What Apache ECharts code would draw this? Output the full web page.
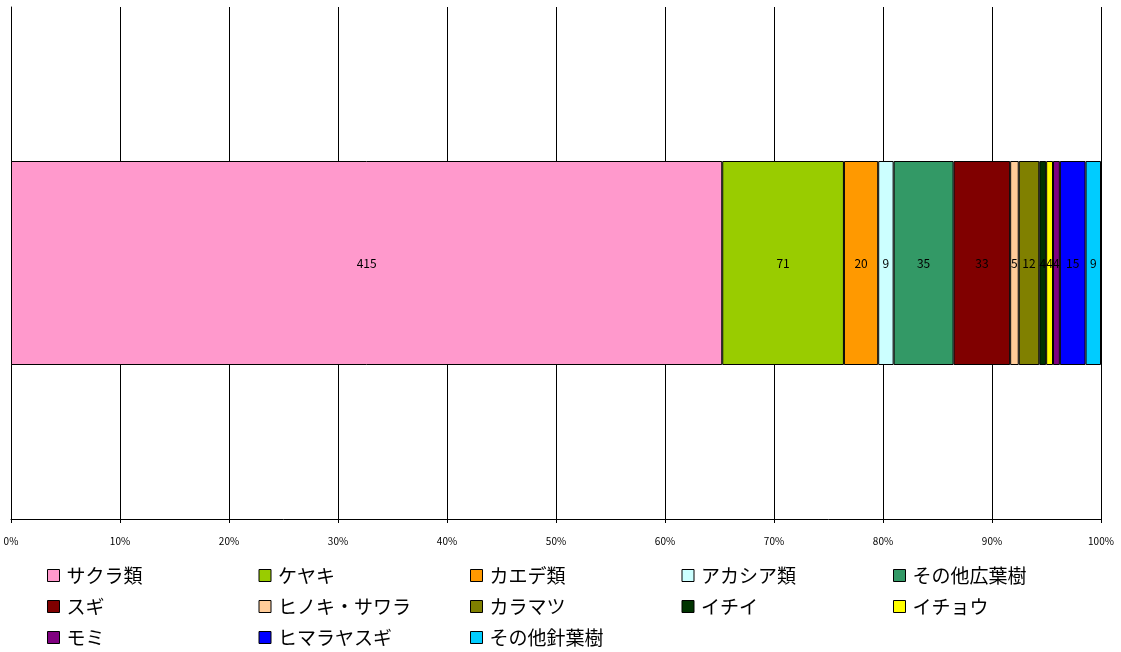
<!DOCTYPE html>
<html><head><meta charset="utf-8">
<script src="https://cdn.jsdelivr.net/npm/echarts@6/dist/echarts.min.js"></script>
<style>html,body{margin:0;padding:0;background:#fff}#c{width:1121px;height:652px}</style>
</head><body><div id="c"></div>
<script>
const names = ['サクラ類','ケヤキ','カエデ類','アカシア類','その他広葉樹','スギ','ヒノキ・サワラ','カラマツ','イチイ','イチョウ','モミ','ヒマラヤスギ','その他針葉樹'];
const counts = [415,71,20,9,35,33,5,12,4,4,4,15,9];
const colors = ['#FF99CC','#99CC00','#FF9900','#CCFFFF','#339966','#800000','#FFCC99','#808000','#003300','#FFFF00','#800080','#0000FF','#00CCFF'];
const tickLabels = ['0%','10%','20%','30%','40%','50%','60%','70%','80%','90%','100%'];

const total = counts.reduce((a,b)=>a+b,0);
const font = '"Noto Sans CJK JP", sans-serif';
const series = names.map((n,i)=>({
  name:n, type:'bar', stack:'all', barWidth:204,
  data:[{value: counts[i]/total*100, raw: counts[i]}],
  itemStyle:{color:colors[i], borderColor:'#000', borderWidth:1},
  label:{show:true, position:'inside', color:'#000', fontSize:12, fontFamily:font,
    formatter:()=>String(counts[i])},
  emphasis:{disabled:true}
}));
const chart = echarts.init(document.getElementById('c'));
chart.setOption({
  animation:false,
  color:colors,
  grid:{left:11, right:20, top:7, bottom:133},
  xAxis:{type:'value', min:0, max:100, interval:10,
    axisLine:{show:true, lineStyle:{color:'#000'}},
    axisTick:{show:true, length:4, lineStyle:{color:'#000'}},
    splitLine:{show:true, lineStyle:{color:'#000', width:1}},
    axisLabel:{color:'#000', fontSize:10, margin:17, fontFamily:font,
      formatter:(v)=>tickLabels[Math.round(v/10)]}},
  yAxis:{type:'category', data:[''],
    axisLine:{show:true, lineStyle:{color:'#000'}},
    axisTick:{show:false}, axisLabel:{show:false}},
  legend:{left:47, top:566, width:1070, itemWidth:12, itemHeight:12, itemGap:12,
    icon:'rect', selectedMode:false, padding:0,
    itemStyle:{borderColor:'#000', borderWidth:1},
    textStyle:{color:'#000', fontSize:19, fontFamily:font, width:180, lineHeight:15, height:15, padding:[0,0,0,2]},
    data:names},
  series:series
});
</script></body></html>
